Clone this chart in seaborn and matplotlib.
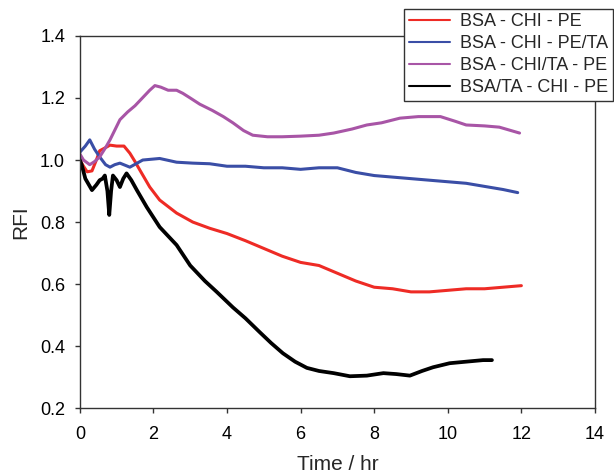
import matplotlib
matplotlib.use("Agg")
import matplotlib.pyplot as plt
import numpy as np
import pandas as pd
import seaborn as sns

# values (time in hr, relative fluorescence intensity)
t_red = [0, 0.1, 0.2, 0.33, 0.45, 0.54, 0.7, 0.82, 1.0, 1.2, 1.36, 1.5,
         1.63, 1.9, 2.17, 2.4, 2.63, 3.07, 3.53, 4.0, 4.5, 5.0, 5.5, 6.0,
         6.5, 7.0, 7.5, 8.0, 8.5, 9.0, 9.5, 10.0, 10.5, 11.0, 11.5, 12.0]
v_red = [1.0, 0.98, 0.962, 0.965, 1.0, 1.03, 1.04, 1.048, 1.045, 1.045,
         1.022, 0.995, 0.968, 0.913, 0.871, 0.85, 0.829, 0.8, 0.78, 0.763,
         0.74, 0.715, 0.69, 0.67, 0.66, 0.635, 0.61, 0.59, 0.585, 0.575,
         0.575, 0.58, 0.585, 0.585, 0.59, 0.595]

t_blue = [0, 0.15, 0.27, 0.4, 0.54, 0.7, 0.82, 0.95, 1.09, 1.36, 1.71, 2.17,
          2.63, 3.07, 3.53, 4.0, 4.5, 5.0, 5.5, 6.0, 6.5, 7.0, 7.5, 8.0, 8.5,
          9.0, 9.5, 10.0, 10.5, 11.0, 11.5, 11.9]
v_blue = [1.025, 1.045, 1.065, 1.035, 1.01, 0.985, 0.977, 0.985, 0.99,
          0.977, 1.0, 1.005, 0.993, 0.99, 0.988, 0.98, 0.98, 0.975, 0.975,
          0.97, 0.975, 0.975, 0.96, 0.95, 0.945, 0.94, 0.935, 0.93, 0.925,
          0.915, 0.905, 0.895]

t_purple = [0, 0.1, 0.27, 0.4, 0.54, 0.7, 0.82, 1.09, 1.3, 1.5, 1.7, 1.9,
            2.04, 2.2, 2.4, 2.63, 2.8, 3.0, 3.26, 3.6, 3.9, 4.16, 4.45, 4.7,
            5.1, 5.5, 6.0, 6.5, 6.9, 7.4, 7.8, 8.2, 8.7, 9.2, 9.8, 10.2, 10.5,
            11.0, 11.4, 11.95]
v_purple = [1.02, 1.0, 0.985, 0.995, 1.01, 1.04, 1.065, 1.13, 1.155, 1.175,
            1.2, 1.225, 1.24, 1.235, 1.225, 1.225, 1.215, 1.2, 1.18, 1.16,
            1.14, 1.12, 1.095, 1.08, 1.075, 1.075, 1.077, 1.08, 1.087, 1.1,
            1.113, 1.12, 1.135, 1.14, 1.14, 1.125, 1.113, 1.11, 1.106, 1.087]

t_black = [0, 0.05, 0.15, 0.33, 0.45, 0.54, 0.62, 0.68, 0.75, 0.8, 0.85,
           0.9, 1.0, 1.09, 1.18, 1.27, 1.4, 1.55, 1.82, 2.17, 2.4, 2.63, 3.0,
           3.4, 3.72, 4.16, 4.5, 4.89, 5.2, 5.52, 5.85, 6.17, 6.5, 6.9, 7.34,
           7.8, 8.25, 8.6, 8.97, 9.3, 9.6, 10.05, 10.5, 10.96, 11.2]
v_black = [1.0, 0.985, 0.94, 0.903, 0.92, 0.935, 0.94, 0.95, 0.9, 0.823,
           0.9, 0.95, 0.935, 0.913, 0.94, 0.957, 0.935, 0.903, 0.848, 0.784,
           0.755, 0.726, 0.66, 0.61, 0.575, 0.525, 0.49, 0.445, 0.41, 0.377,
           0.35, 0.33, 0.32, 0.313, 0.303, 0.305, 0.313, 0.31, 0.305, 0.32,
           0.332, 0.345, 0.35, 0.355, 0.355]

labels = ["BSA - CHI - PE", "BSA - CHI - PE/TA", "BSA - CHI/TA - PE",
          "BSA/TA - CHI - PE"]
colors = ["#ee2b25", "#3a4ea6", "#a855a6", "#000000"]

frames = []
for lab, t, v in zip(labels, [t_red, t_blue, t_purple, t_black],
                     [v_red, v_blue, v_purple, v_black]):
    frames.append(pd.DataFrame({"Time": t, "RFI": v, "Sample": lab}))
df = pd.concat(frames, ignore_index=True)

sns.set_style("ticks")
plt.rcParams["font.family"] = ["Liberation Sans", "DejaVu Sans"]

fig = plt.figure(figsize=(6.14, 4.73), dpi=100)
ax = fig.add_axes([0.130, 0.137, 0.839, 0.787])

sns.lineplot(data=df, x="Time", y="RFI", hue="Sample", hue_order=labels,
             palette=colors, estimator=None, sort=False, linewidth=2.2,
             ax=ax)
ax.lines[3].set_linewidth(2.7)

ax.set_xlim(0, 14)
ax.set_ylim(0.2, 1.4)
ax.set_xticks(np.arange(0, 15, 2))
ax.set_yticks(np.arange(0.2, 1.41, 0.2))
ax.set_yticklabels([f"{y:.1f}" for y in np.arange(0.2, 1.41, 0.2)])
ax.tick_params(direction="out", length=3.6, width=1, labelsize=13,
               color="#333333", labelcolor="black")
ax.tick_params(axis="x", pad=9)
ax.tick_params(axis="y", pad=7)
for s in ax.spines.values():
    s.set_color("#333333")
    s.set_linewidth(1)
ax.set_xlabel("Time / hr", fontsize=15, labelpad=9)
ax.set_ylabel("RFI", fontsize=15, labelpad=7)

leg = ax.legend(loc="upper right", bbox_to_anchor=(1.035, 1.073),
                fontsize=13, frameon=True, fancybox=False, framealpha=1,
                edgecolor="#333333", handlelength=2.3, labelspacing=0.28,
                borderpad=0.25, handletextpad=0.55, borderaxespad=0)
leg.get_frame().set_linewidth(1)
for h in leg.get_lines():
    h.set_linewidth(1.5)

fig.savefig("out.png", dpi=100)
